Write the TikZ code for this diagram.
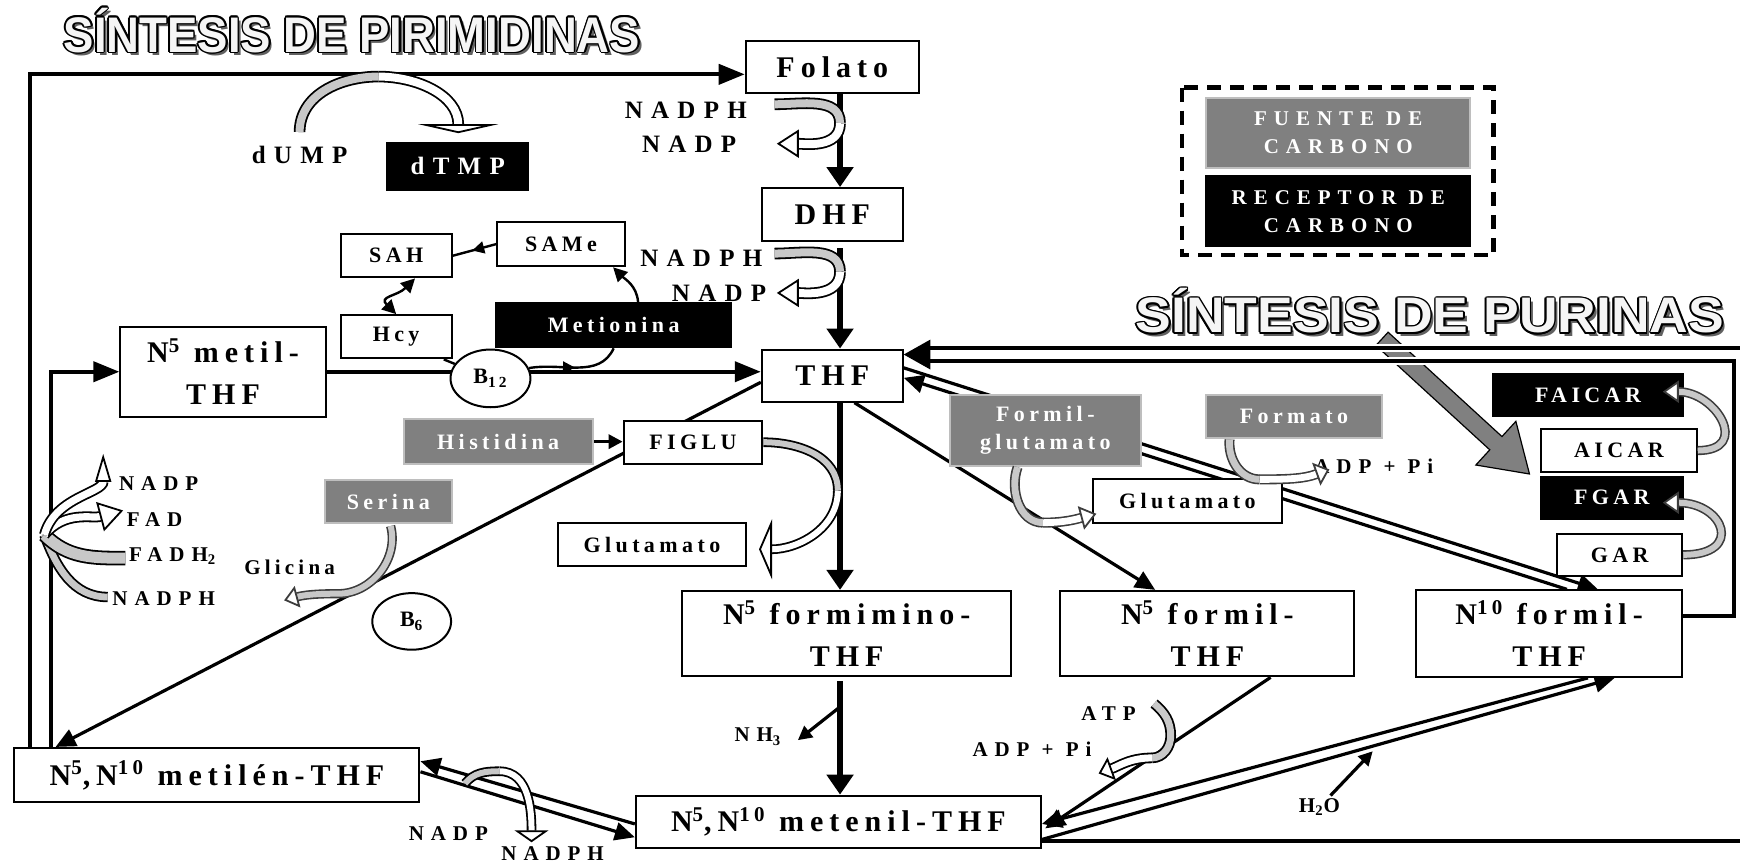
\documentclass[tikz,border=0pt]{standalone}
\usepackage{fontspec}
\setmainfont{Liberation Serif}
\newfontfamily\boxfont[LetterSpace=20]{Liberation Serif}
\newfontfamily\labfont[LetterSpace=33]{Liberation Serif}
\newfontfamily\titlefont{Liberation Sans}
\usetikzlibrary{calc,arrows.meta,shapes.geometric,shapes.arrows,decorations.markings}
\pgfdeclarelayer{bg}
\pgfsetlayers{bg,main}
\definecolor{srcgray}{RGB}{128,128,128}
\definecolor{srcedge}{RGB}{190,190,190}
\definecolor{bandgray}{RGB}{200,200,200}
\definecolor{darkband}{RGB}{60,60,60}
\def\px{0.5548pt}
\def\fbig{\boxfont\bfseries\fontsize{15}{21}\selectfont}
\def\fsmall{\boxfont\bfseries\fontsize{11}{14}\selectfont}
\def\flab{\labfont\bfseries\fontsize{10.5}{14}\selectfont}
\def\fmid{\labfont\bfseries\fontsize{12.5}{14}\selectfont}
\def\fttl{\titlefont\bfseries\fontsize{25}{26}\selectfont}
\tikzset{
  box/.style={draw, line width=1pt, fill=white, inner sep=0pt, align=center, font=\fsmall},
  bigbox/.style={box, font=\fbig},
  fuente/.style={box, fill=srcgray, draw=srcedge, text=white},
  receptor/.style={box, fill=black, text=white},
  vit/.style={box, ellipse},
  sz/.style 2 args={minimum width=#1*\px, minimum height=#2*\px},
  lab/.style={inner sep=0pt, font=\flab},
  ttl/.style={inner sep=0pt, anchor=base west, font=\fttl},
  mainline/.style={line width=2pt},
  conn/.style={line width=1.6pt},
  slim/.style={line width=1.2pt},
  vert/.style={line width=2.6pt, -{Triangle[length=10pt,width=13pt]}},
  bighead/.style={-{Triangle[length=13pt,width=10pt]}},
  midhead/.style={-{Triangle[length=10pt,width=9pt]}},
  smallhead/.style={-{Triangle[length=7pt,width=7pt]}},
  midarrow/.style={postaction={decorate}, decoration={markings,
      mark=at position #1 with {\arrow{Triangle[length=6pt,width=6pt]}}}},
  midarrow/.default=0.5,
  band/.style={line width=0.9pt, double=#1, double distance=4pt},
  band/.default=white,
  thinband/.style={draw=darkband, line width=0.8pt, double=#1, double distance=2.4pt},
  thinband/.default=white,
  hollow/.style 2 args={-{Triangle[open, fill=white, line width=0.9pt, length=#1, width=#2]}},
  bigarrow/.style={single arrow, draw, line width=0.6pt, fill=srcgray, inner sep=4.2pt,
      minimum height=100pt, single arrow head extend=10.3pt, single arrow tip angle=66},
  legframe/.style={line width=2.2pt, dash pattern=on 7pt off 4.5pt},
}
\def\outlined#1#2#3{%
  \node[ttl, text=gray!75!black] (#1s) at ($(#2)+(3,-3)$) {#3};
  \foreach \a [count=\k] in {0,30,...,330}
    \node[ttl] (#1o\k) at ($(#2)+(\a:1.5)$) {#3};
  \node[ttl, text=gray!8] (#1) at (#2) {#3};
}

\begin{document}
\begin{tikzpicture}[x=\px, y=\px]
\path[use as bounding box] (0,0) rectangle (1568,-777);
% titles
\coordinate (t1) at (57,-47);
\coordinate (t2) at (1023,-300);
\outlined{pyr}{t1}{\scalebox{0.91}[1]{SÍNTESIS DE PIRIMIDINAS}}
\outlined{pur}{t2}{\scalebox{1.07}[1]{SÍNTESIS DE PURINAS}}
% legend
\draw[legframe] (1065,-79) rectangle (1346,-230);
\node[fuente, sz={238}{63}, font=\flab] (fuenteleg) at (1206,-119.5) {FUENTE DE\\CARBONO};
\node[receptor, sz={238}{63}, font=\flab] (receptorleg) at (1206,-190.5) {RECEPTOR DE\\CARBONO};
% main column
\node[bigbox, sz={156}{47}] (folato) at (750,-60.5) {Folato};
\node[bigbox, sz={127}{48}] (dhf) at (750,-193.5) {DHF};
\node[bigbox, sz={127}{47}] (thf) at (750,-338.5) {THF};
\node[receptor, sz={127}{42}, font=\fmid] (dtmp) at (412.5,-150) {dTMP};
\node[lab, font=\fmid] (dump) at (270,-140) {dUMP};
\node[lab, font=\fmid] (nadph1) at (618,-99.5) {NADPH};
\node[lab, font=\fmid] (nadp1) at (621,-130) {NADP};
\node[lab, font=\fmid] (nadph2) at (632,-233) {NADPH};
\node[lab, font=\fmid] (nadp2) at (648,-264) {NADP};
% methionine cycle
\node[box, sz={115}{40}] (same) at (505.5,-220) {SAMe};
\node[box, sz={100}{39}] (sah) at (357,-230.5) {SAH};
\node[box, sz={100}{39}] (hcy) at (357,-303.5) {Hcy};
\node[receptor, sz={212}{40}] (metionina) at (553,-293) {Metionina};
\node[bigbox, sz={185}{81}] (n5metil) at (201,-335) {N\textsuperscript{5} metil-\\THF};
\node[vit, sz={72}{52}] (b12) at (442,-341) {B\textsubscript{12}};
% left side
\node[fuente, sz={170}{40}] (histidina) at (449,-398) {Histidina};
\node[box, sz={125}{39}] (figlu) at (624.5,-398.5) {FIGLU};
\node[fuente, sz={114}{38}] (serina) at (350,-452) {Serina};
\node[lab, font=\boxfont\bfseries\fontsize{10.5}{12}\selectfont] (glicina) at (261,-511) {Glicina};
\node[vit, sz={71}{51}] (b6) at (371,-560) {B\textsubscript{6}};
\node[box, sz={170}{39}] (glut1) at (587.5,-491) {Glutamato};
\node[lab, anchor=west] (nadp4) at (107,-436) {NADP};
\node[lab, anchor=west] (fad) at (114,-468) {FAD};
\node[lab, anchor=west] (fadh2) at (116,-501) {FADH\textsubscript{2}};
\node[lab, anchor=west] (nadph4) at (101,-539) {NADPH};
% formyl derivatives
\node[bigbox, sz={296}{77}] (n5formimino) at (763,-571) {N\textsuperscript{5} formimino-\\THF};
\node[fuente, sz={172}{64}] (formilglut) at (942,-388) {Formil-\\glutamato};
\node[fuente, sz={158}{39}] (formato) at (1166,-375.5) {Formato};
\node[box, sz={170}{40}] (glut2) at (1070,-451.5) {Glutamato};
\node[lab] (adppi1) at (1238,-420) {ADP + Pi};
\node[bigbox, sz={265}{77}] (n5formil) at (1088,-571) {N\textsuperscript{5} formil-\\THF};
\node[bigbox, sz={240}{78}] (n10formil) at (1396,-571) {N\textsuperscript{10} formil-\\THF};
% purines
\node[receptor, sz={171}{38}] (faicar) at (1431,-356) {FAICAR};
\node[box, sz={140}{38}] (aicar) at (1459,-406) {AICAR};
\node[receptor, sz={128}{38}] (fgar) at (1452.5,-448.5) {FGAR};
\node[box, sz={113}{38}] (gar) at (1459.5,-500) {GAR};
% bottom row
\node[bigbox, sz={365}{49}] (metilen) at (195.5,-698.5) {N\textsuperscript{5},N\textsuperscript{10} metilén-THF};
\node[bigbox, sz={365}{47}] (metenil) at (755.5,-740.5) {N\textsuperscript{5},N\textsuperscript{10} metenil-THF};
\node[lab] (nh3) at (683,-664) {NH\textsubscript{3}};
\node[lab] (atp) at (999,-643) {ATP};
\node[lab] (adppi2) at (930,-675) {ADP + Pi};
\node[lab] (h2o) at (1189,-727) {H\textsubscript{2}O};
\node[lab] (nadp3) at (404,-751) {NADP};
\node[lab] (nadph3) at (498,-769) {NADPH};

\begin{pgfonlayer}{bg}
\coordinate (lc1) at (27,-67);
\coordinate (lc2) at (46,-335);
\coordinate (col) at (757,0);
\draw[mainline, bighead] (metilen.north -| lc1) -- (lc1) -- (lc1 -| folato.west);
\draw[mainline, bighead] (metilen.north -| lc2) -- (lc2) -- (lc2 -| n5metil.west);
\draw[vert] (folato.south -| col) -- (dhf.north -| col);
\draw[vert, shorten <=3pt] (dhf.south -| col) -- (thf.north -| col);
\draw[vert] (thf.south -| col) -- (n5formimino.north -| col);
\draw[vert, shorten <=2pt] (n5formimino.south -| col) -- (metenil.north -| col);
\coordinate (nh3b) at (757,-637);
\coordinate (nh3tip) at (719,-667);
\draw[conn, smallhead] (nh3b) -- (nh3tip);
\draw[mainline, bighead] (n5metil.east) -- (n5metil.east -| thf.west);
\draw[conn, midhead] ($(thf.west)+(0,-6)$) -- ($(metilen.north west)+(38,0)$);
\draw[conn, smallhead] (histidina.east) -- (histidina.east -| figlu.west);
\draw[slim] ($(hcy.south east)+(-8,0)$) -- (b12);
\draw[slim, midarrow] (b12.15) to[out=10,in=-115] (metionina.south);
\draw[slim, midarrow=0.55] (same.west) -- (sah.east);
\draw[slim, {Triangle[length=7pt,width=7pt]}-{Triangle[length=7pt,width=7pt]}] (hcy.north) to[out=135,in=-135,looseness=1.6] ($(sah.south)+(17,0)$);
\draw[slim, -{Triangle[length=7pt,width=7pt]}] ($(metionina.north)+(22,0)$) to[out=95,in=-45] ($(same.south)+(47,0)$);
\draw[conn, midhead] ($(thf.south)+(20,0)$) -- ($(n5formil.north)+(-47,0)$);
\draw[conn, midhead] ($(n5formil.south)+(57,0)$) -- ($(metenil.east)+(3,-6)$);
% reversible pairs
\draw[conn, midhead] ($(n10formil.north)+(16,0)$) -- ($(thf.east)+(0,-2)$);
\draw[conn, midhead] ($(thf.east)+(0,7)$) -- ($(n10formil.north)+(44,0)$);
\draw[conn, midhead] ($(n10formil.south)+(35,0)$) -- ($(metenil.east)+(0,-2)$);
\draw[conn, midhead] ($(metenil.east)+(0,-16)$) -- ($(n10formil.south)+(59,0)$);
\draw[conn, midhead] ($(metenil.west)+(0,-2)$) -- ($(metilen.east)+(0,12.5)$);
\draw[conn, midhead] ($(metilen.east)+(0,3)$) -- ($(metenil.west)+(0,-14)$);
\coordinate (h2otip) at (1237,-677);
\draw[conn, smallhead] ($(h2o.north)+(10,2)$) -- (h2otip);
% return lines to THF
\node[bigarrow, rotate=-42.5, anchor=tail] (purarrow) at (1245,-305) {};
\draw[white, line width=4pt] (1222,-314) -- (1300,-314) (1222,-325) -- (1300,-325);
\coordinate (rimA) at (1600,-314);
\coordinate (rimB) at (1563,-325);
\coordinate (thfhead) at ($(thf.east)+(23,0)$);
\draw[mainline] ($(metenil.east)+(0,-17.5)$) -| (rimA) -- (rimA -| thfhead);
\draw[mainline] ($(n10formil.east)+(0,15.5)$) -| (rimB) -- (rimB -| thfhead);
\fill ($(thf.east)+(0,19)$) -- ++(24,13.5) -- ++(0,-27) -- cycle;
\end{pgfonlayer}

% cofactor bands
\draw[band=bandgray] (270,-119) to[out=90,in=180] (341,-69);
\draw[band, hollow={4.5pt}{40pt}] (341,-69) to[out=0,in=90] (413,-120);
\draw[band=bandgray] (698,-94) to[out=0,in=90] (757,-111);
\draw[band, hollow={11pt}{14pt}] (757,-111) to[out=-90,in=0] (700,-129.5);
\draw[band=bandgray] (698,-228.5) to[out=0,in=90] (757,-245);
\draw[band, hollow={11pt}{14pt}] (757,-245) to[out=-90,in=0] (700,-264);
\draw[band=bandgray, double distance=3pt] (figlu.east) to[out=0,in=90] (755,-442);
\draw[band, double distance=3pt, hollow={6.5pt}{30pt}] (755,-442) to[out=-90,in=0] (684,-495);
\draw[thinband=bandgray, double distance=3pt, hollow={7pt}{11pt}] (352,-474) to[out=-75,in=0] (305,-535) to[out=180,in=15] (256,-541);
\draw[thinband=bandgray, double distance=3.4pt] (917,-421) to[out=-110,in=180] (940,-471);
\draw[thinband, double distance=3.4pt, hollow={8pt}{12pt}] (940,-471) to[out=0,in=195] (988,-463);
\draw[thinband=bandgray, double distance=3.4pt] (1108,-396) to[out=-95,in=180] (1135,-432);
\draw[thinband, double distance=3.4pt, hollow={7pt}{12pt}] (1135,-432) to[out=0,in=200] (1198,-423);
\draw[band=bandgray, double distance=3.5pt] (1040,-634) to[out=-40,in=90] (1055,-663) to[out=-90,in=0] (1038,-683);
\draw[band, double distance=3.5pt, hollow={7pt}{12pt}] (1038,-683) to[out=180,in=20] (990,-697);
\draw[band=bandgray, double distance=3pt] (419,-706) to[out=50,in=180] (450,-695);
\draw[band, double distance=3pt, hollow={6pt}{17pt}] (450,-695) to[out=0,in=90] (479,-759);
% left bundle
\draw[band=bandgray, double distance=3.4pt] (97,-538) to[out=180,in=-70] (40,-482);
\draw[band=bandgray, double distance=5.5pt] (113,-503) to[out=180,in=-45] (40,-482);
\draw[band, double distance=3.6pt, hollow={12pt}{15pt}] (40,-482) to[out=50,in=195] (111,-460);
\draw[band, double distance=3.6pt, hollow={14pt}{8pt}] (40,-482) to[out=75,in=-90] (93,-409);
% purine steps
\draw[thinband=bandgray, double distance=3pt, hollow={8pt}{11pt}] (gar.east) to[out=0,in=0,looseness=2.8] ($(fgar.east)+(-19,-4.5)$);
\draw[thinband=bandgray, double distance=3pt, hollow={8pt}{11pt}] (aicar.east) to[out=0,in=0,looseness=2] ($(faicar.east)+(-19,3)$);
\end{tikzpicture}
\end{document}
